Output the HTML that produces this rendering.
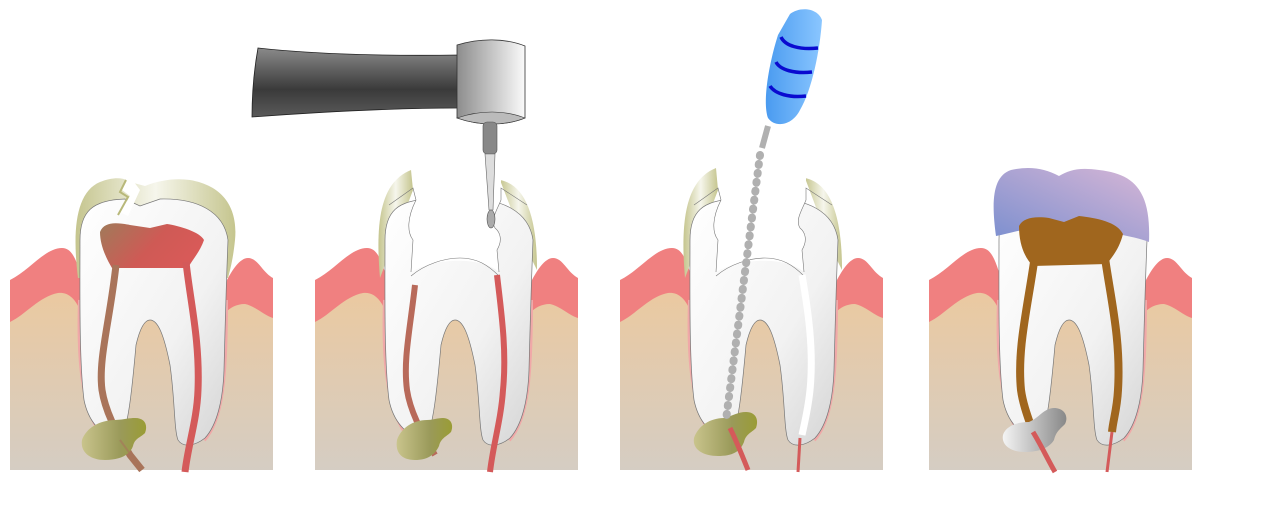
<!DOCTYPE html>
<html><head><meta charset="utf-8"><style>html,body{margin:0;padding:0;background:#fff}svg{display:block}</style></head><body>
<svg width="1280" height="512" viewBox="0 0 1280 512" xmlns="http://www.w3.org/2000/svg">
<defs>
<linearGradient id="bone" gradientUnits="userSpaceOnUse" x1="0" y1="290" x2="0" y2="470"><stop offset="0" stop-color="#ebc9a0"/><stop offset="1" stop-color="#d5cdc3"/></linearGradient>
<linearGradient id="dent" x1="0" y1="0" x2="1" y2="1"><stop offset="0" stop-color="#fff"/><stop offset="0.6" stop-color="#f2f2f2"/><stop offset="1" stop-color="#d4d4d4"/></linearGradient>
<linearGradient id="enam" x1="0" y1="0" x2="1" y2="0"><stop offset="0" stop-color="#c5c58e"/><stop offset="0.5" stop-color="#f6f6ec"/><stop offset="1" stop-color="#c5c58e"/></linearGradient>
<linearGradient id="pulp" x1="0" y1="0" x2="1" y2="0.4"><stop offset="0" stop-color="#a07a5a"/><stop offset="0.6" stop-color="#cf5a55"/><stop offset="1" stop-color="#d85a58"/></linearGradient>
<linearGradient id="absc" x1="0" y1="0" x2="1" y2="0"><stop offset="0" stop-color="#c9c48c"/><stop offset="0.6" stop-color="#9a9a5a"/><stop offset="1" stop-color="#9a9c35"/></linearGradient>
<linearGradient id="crown" x1="0" y1="1" x2="1" y2="0"><stop offset="0" stop-color="#7b8fcf"/><stop offset="1" stop-color="#d7b6d6"/></linearGradient>
<linearGradient id="gray" x1="0" y1="0" x2="1" y2="0"><stop offset="0" stop-color="#f4f4f4"/><stop offset="1" stop-color="#888"/></linearGradient>
<linearGradient id="hand" x1="0" y1="0" x2="0" y2="1"><stop offset="0" stop-color="#8a8a8a"/><stop offset="0.6" stop-color="#3a3a3a"/><stop offset="1" stop-color="#5a5a5a"/></linearGradient>
<linearGradient id="head" x1="0" y1="0" x2="1" y2="0"><stop offset="0" stop-color="#8d8d8d"/><stop offset="1" stop-color="#fafafa"/></linearGradient>
<linearGradient id="blue" x1="0" y1="0" x2="1" y2="0"><stop offset="0" stop-color="#4a9bf0"/><stop offset="1" stop-color="#8ac6ff"/></linearGradient>
<g id="gum">
<rect x="78" y="300" width="150" height="170" fill="url(#bone)"/>
<path d="M10 280 C30 270 45 248 62 248 C72 248 76 260 80 272 L80 330 L10 330 Z" fill="#f08080"/>
<path d="M10 322 C25 315 40 296 58 293 C66 292 74 296 80 310 L80 470 L10 470 Z" fill="url(#bone)"/>
<path d="M226 282 C232 270 240 258 248 258 C258 258 262 272 273 278 L273 330 L226 330 Z" fill="#f08080"/>
<path d="M226 312 C230 308 236 304 245 304 C255 306 265 316 273 318 L273 470 L226 470 Z" fill="url(#bone)"/>
</g>
<path id="toothp" d="M80 240 C80 212 92 200 125 199 L140 206 L160 199 C198 198 224 212 228 240 C226 290 225 330 224 370 C223 400 217 425 205 438 C195 446 183 448 178 440 C174 430 175 400 170 365 C164 335 158 320 150 320 C145 320 140 328 136 345 C132 390 128 430 120 440 C100 436 88 420 84 400 C79 360 80 290 80 240 Z"/>
</defs>

<!-- PANEL 1 -->
<use href="#gum"/>
<path d="M78 278 C72 230 76 192 100 182 C115 176 125 178 130 182 L145 186 C160 180 175 178 190 180 C225 186 238 210 235 240 C233 260 230 270 228 278 Z" fill="url(#enam)"/>
<path d="M80 300 C78 360 82 410 104 438" fill="none" stroke="#f0a8a8" stroke-width="4"/>
<path d="M226 300 C226 380 222 420 204 440" fill="none" stroke="#f0a8a8" stroke-width="4"/>
<use href="#toothp" fill="url(#dent)" stroke="#777" stroke-width="0.7"/>
<path d="M127 178 L122 190 L130 196 L120 212 L128 216 L140 190 L134 182 Z" fill="#fff"/>
<path d="M126 180 L120 192 L128 197 L118 215" fill="none" stroke="#b8b87a" stroke-width="2"/>
<path d="M100 232 C104 222 115 222 130 225 L150 228 L167 224 C180 226 200 232 204 240 C200 252 192 260 188 268 L112 268 C106 258 100 245 100 232 Z" fill="url(#pulp)"/>
<path d="M116 265 C110 320 98 360 102 390 C105 410 115 430 130 455 L142 470" fill="none" stroke="#a9745a" stroke-width="7"/>
<path d="M186 262 C190 300 200 340 198 390 C197 420 188 445 185 472" fill="none" stroke="#d45a5a" stroke-width="7"/>
<path d="M82 440 C86 428 100 420 115 420 C122 420 128 418 135 418 C145 418 148 425 145 433 C140 438 135 438 133 446 C130 455 120 460 105 460 C90 460 80 452 82 440 Z" fill="url(#absc)"/>
<path d="M120 440 L142 470" fill="none" stroke="#a9745a" stroke-opacity="0.6" stroke-width="2"/>

<!-- PANEL 2 -->
<g transform="translate(305,0)">
<use href="#gum"/>
<path d="M80 300 C78 360 82 410 104 438" fill="none" stroke="#f0a8a8" stroke-width="4"/>
<path d="M226 300 C226 380 222 420 204 440" fill="none" stroke="#f0a8a8" stroke-width="4"/>
<path d="M75 278 C70 220 76 182 106 170 L108 190 Z" fill="url(#enam)"/>
<path d="M195 180 C220 185 232 215 232 270 L222 250 Z" fill="url(#enam)"/>
<use href="#toothp" fill="url(#dent)" stroke="#777" stroke-width="0.7"/>
<path d="M106 150 L110 190 L111 200 C102 218 102 232 108 240 L106 272 C130 258 175 256 194 272 L192 250 C198 240 195 232 190 228 C185 220 192 210 196 200 L196 150 Z" fill="#fff"/>
<path d="M84 205 L108 188 L111 200 C102 218 102 232 108 240 L106 272 M194 272 L192 250 C198 240 195 232 190 228 C185 220 192 210 196 200 L196 188 L222 205" fill="none" stroke="#777" stroke-width="0.6"/>
<path d="M106 276 C120 264 140 258 155 258 C172 258 183 265 194 276" fill="none" stroke="#777" stroke-width="0.6"/>
<path d="M110 285 C105 330 98 360 102 390 C105 410 115 430 130 455" fill="none" stroke="#b86a5a" stroke-width="6"/>
<path d="M192 275 C196 310 202 350 198 390 C196 420 188 445 185 472" fill="none" stroke="#d45a5a" stroke-width="6"/>
<path d="M92 440 C96 428 108 420 122 420 C128 420 132 418 138 418 C146 418 149 425 146 432 C141 437 136 438 134 446 C130 455 122 460 110 460 C96 460 90 452 92 440 Z" fill="url(#absc)"/>
</g>
<!-- drill -->
<path d="M258 48 C320 55 400 56 460 55 L460 108 C400 108 320 112 252 117 C252 95 254 70 258 48 Z" fill="url(#hand)" stroke="#222" stroke-width="0.8"/>
<path d="M457 45 C480 38 505 38 525 46 L525 118 C505 126 480 126 457 118 Z" fill="url(#head)" stroke="#333" stroke-width="0.8"/>
<path d="M457 118 C480 110 505 110 525 118 C505 126 480 126 457 118 Z" fill="#bbb" stroke="#333" stroke-width="0.6"/>
<rect x="483" y="122" width="14" height="32" rx="4" fill="#888" stroke="#555" stroke-width="0.6"/>
<path d="M485 154 L495 154 L493 210 L489 210 Z" fill="#ddd" stroke="#666" stroke-width="0.6"/>
<ellipse cx="491" cy="219" rx="4" ry="9" fill="#aaa" stroke="#555" stroke-width="0.6"/>

<!-- PANEL 3 -->
<g transform="translate(610,0)">
<use href="#gum"/>
<path d="M80 300 C78 360 82 410 104 438" fill="none" stroke="#f0a8a8" stroke-width="4"/>
<path d="M226 300 C226 380 222 420 204 440" fill="none" stroke="#f0a8a8" stroke-width="4"/>
<path d="M75 278 C70 220 76 180 106 168 L108 190 Z" fill="url(#enam)"/>
<path d="M195 178 C220 183 232 215 232 270 L222 250 Z" fill="url(#enam)"/>
<use href="#toothp" fill="url(#dent)" stroke="#777" stroke-width="0.7"/>
<path d="M106 150 L110 190 L111 200 C102 218 102 232 108 240 L106 272 C130 258 175 256 194 272 L192 250 C198 240 195 232 190 228 C185 220 192 210 196 200 L196 150 Z" fill="#fff"/>
<path d="M84 205 L108 188 L111 200 C102 218 102 232 108 240 L106 272 M194 272 L192 250 C198 240 195 232 190 228 C185 220 192 210 196 200 L196 188 L222 205" fill="none" stroke="#777" stroke-width="0.6"/>
<path d="M106 276 C120 264 140 258 155 258 C172 258 183 265 194 276" fill="none" stroke="#777" stroke-width="0.6"/>
<path d="M192 275 C198 310 204 350 200 390 C198 410 194 425 192 435" fill="none" stroke="#fff" stroke-width="7"/>
<path d="M84 438 C88 426 100 418 114 418 C122 416 128 412 136 412 C146 412 149 420 146 428 C141 433 136 434 134 442 C130 452 122 456 108 456 C94 456 82 450 84 438 Z" fill="url(#absc)"/>
<path d="M120 428 C126 440 132 455 138 470" fill="none" stroke="#d45a5a" stroke-width="5"/>
<path d="M190 438 L188 472" fill="none" stroke="#d45a5a" stroke-width="3"/>
</g>
<!-- file -->
<line x1="768" y1="126" x2="762" y2="148" stroke="#b0b0b0" stroke-width="6"/>
<line x1="760" y1="155" x2="726" y2="420" stroke="#b0b0b0" stroke-width="8" stroke-dasharray="1 8" stroke-linecap="round"/>
<path d="M790 14 C800 6 818 8 822 20 C820 50 812 90 800 110 C792 126 775 128 768 118 C762 100 770 60 778 35 Z" fill="url(#blue)"/>
<path d="M781 37 C785 46 800 50 818 48" fill="none" stroke="#0a0ad0" stroke-width="3.5"/>
<path d="M776 62 C780 70 795 74 812 72" fill="none" stroke="#0a0ad0" stroke-width="3.5"/>
<path d="M770 86 C775 94 790 98 806 96" fill="none" stroke="#0a0ad0" stroke-width="3.5"/>

<!-- PANEL 4 -->
<g transform="translate(919,0)">
<use href="#gum"/>
<path d="M80 300 C78 360 82 410 104 438" fill="none" stroke="#f0a8a8" stroke-width="4"/>
<path d="M226 300 C226 380 222 420 204 440" fill="none" stroke="#f0a8a8" stroke-width="4"/>
<use href="#toothp" fill="url(#dent)" stroke="#777" stroke-width="0.7"/>
<path d="M77 236 C72 200 74 176 92 170 C110 166 125 168 140 176 C150 170 160 167 180 170 C215 174 232 190 230 242 C215 236 200 236 190 230 L115 228 C100 230 88 234 77 236 Z" fill="url(#crown)"/>
<path d="M100 226 C104 218 115 216 130 218 L145 222 L160 216 C178 218 198 222 204 234 C200 250 192 258 188 264 L114 266 C106 258 100 245 100 226 Z" fill="#a0661e"/>
<path d="M115 262 C108 310 98 350 102 390 C104 405 110 420 114 432" fill="none" stroke="#a0661e" stroke-width="8"/>
<path d="M186 258 C192 300 202 340 199 390 C198 410 194 420 193 432" fill="none" stroke="#a0661e" stroke-width="8"/>
<path d="M84 435 C86 428 95 422 110 422 C120 418 125 408 135 408 C145 408 150 416 146 424 C140 430 137 432 135 440 C130 448 120 452 105 452 C92 452 82 445 84 435 Z" fill="url(#gray)"/>
<path d="M114 432 C122 445 128 458 136 472" fill="none" stroke="#d45a5a" stroke-width="5"/>
<path d="M193 432 L188 472" fill="none" stroke="#d45a5a" stroke-width="3"/>
</g>
</svg>
</body></html>
